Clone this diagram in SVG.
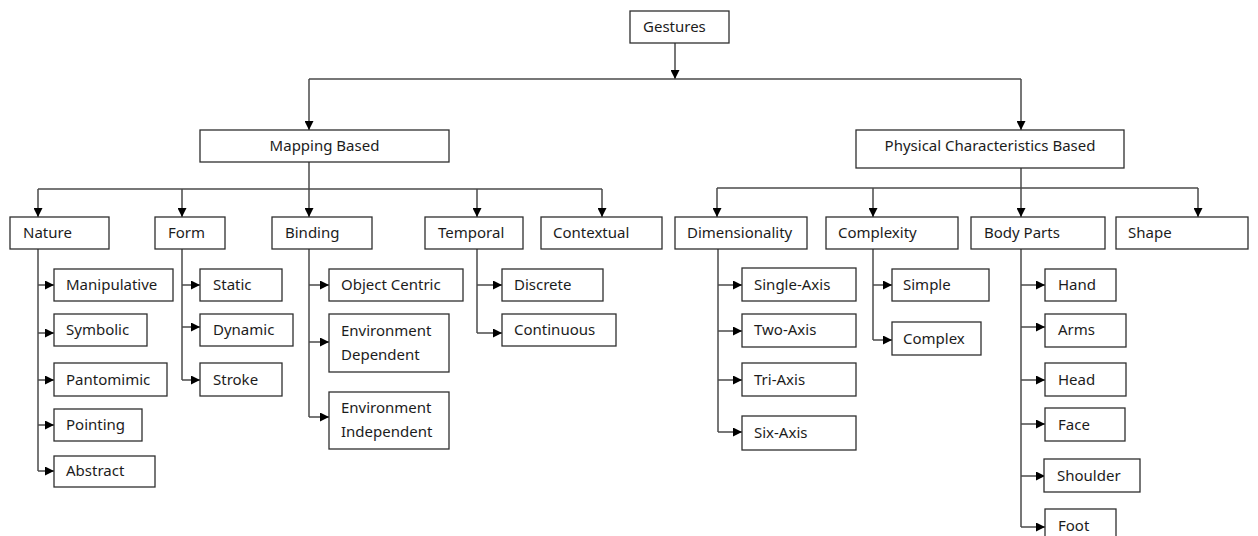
<svg xmlns="http://www.w3.org/2000/svg" width="1258" height="536" viewBox="0 0 1258 536">
  <style>
    .box { fill: #ffffff; stroke: #2f2f2f; stroke-width: 1.3; }
    .lbl { font-family: "Noto Sans", "Liberation Sans", sans-serif; font-size: 15px; fill: #1c1c1c; }
    .mid { text-anchor: middle; }
    .wire { fill: none; stroke: #4a4a4a; stroke-width: 1.5; }
    .arr { marker-end: url(#head); }
  </style>
  <defs>
    <marker id="head" markerUnits="userSpaceOnUse" markerWidth="10" markerHeight="9" refX="9" refY="4.5" orient="auto">
      <path d="M0,0 L9,4.5 L0,9 z" fill="#000"/>
    </marker>
  </defs>

  <!-- connectors -->
  <g id="connectors">
    <!-- root split -->
    <line class="wire arr" x1="675" y1="43" x2="675" y2="79"/>
    <polyline class="wire" points="309,79 1021,79"/>
    <line class="wire arr" x1="309" y1="79" x2="309" y2="130"/>
    <line class="wire arr" x1="1021" y1="79" x2="1021" y2="130"/>

    <!-- mapping based branches -->
    <line class="wire" x1="309" y1="162" x2="309" y2="189"/>
    <line class="wire" x1="38" y1="189" x2="602" y2="189"/>
    <line class="wire arr" x1="38" y1="189" x2="38" y2="217"/>
    <line class="wire arr" x1="182" y1="189" x2="182" y2="217"/>
    <line class="wire arr" x1="309" y1="189" x2="309" y2="217"/>
    <line class="wire arr" x1="477" y1="189" x2="477" y2="217"/>
    <line class="wire arr" x1="602" y1="189" x2="602" y2="217"/>

    <!-- physical characteristics branches -->
    <line class="wire" x1="1021" y1="168" x2="1021" y2="188"/>
    <line class="wire" x1="717" y1="188" x2="1198" y2="188"/>
    <line class="wire arr" x1="717" y1="188" x2="717" y2="217"/>
    <line class="wire arr" x1="873" y1="188" x2="873" y2="217"/>
    <line class="wire arr" x1="1021" y1="188" x2="1021" y2="217"/>
    <line class="wire arr" x1="1198" y1="188" x2="1198" y2="217"/>

    <!-- nature -->
    <line class="wire" x1="38" y1="249" x2="38" y2="471"/>
    <line class="wire arr" x1="38" y1="285" x2="54" y2="285"/>
    <line class="wire arr" x1="38" y1="333" x2="54" y2="333"/>
    <line class="wire arr" x1="38" y1="380" x2="54" y2="380"/>
    <line class="wire arr" x1="38" y1="425" x2="54" y2="425"/>
    <line class="wire arr" x1="38" y1="471" x2="54" y2="471"/>

    <!-- form -->
    <line class="wire" x1="182" y1="249" x2="182" y2="380"/>
    <line class="wire arr" x1="182" y1="285" x2="200" y2="285"/>
    <line class="wire arr" x1="182" y1="327" x2="200" y2="327"/>
    <line class="wire arr" x1="182" y1="380" x2="200" y2="380"/>

    <!-- binding -->
    <line class="wire" x1="309" y1="249" x2="309" y2="417"/>
    <line class="wire arr" x1="309" y1="285" x2="329" y2="285"/>
    <line class="wire arr" x1="309" y1="342" x2="329" y2="342"/>
    <line class="wire arr" x1="309" y1="417" x2="329" y2="417"/>

    <!-- temporal -->
    <line class="wire" x1="477" y1="249" x2="477" y2="333"/>
    <line class="wire arr" x1="477" y1="285" x2="502" y2="285"/>
    <line class="wire arr" x1="477" y1="333" x2="502" y2="333"/>

    <!-- dimensionality -->
    <line class="wire" x1="718" y1="249" x2="718" y2="432"/>
    <line class="wire arr" x1="718" y1="285" x2="742" y2="285"/>
    <line class="wire arr" x1="718" y1="331" x2="742" y2="331"/>
    <line class="wire arr" x1="718" y1="380" x2="742" y2="380"/>
    <line class="wire arr" x1="718" y1="432" x2="742" y2="432"/>

    <!-- complexity -->
    <line class="wire" x1="873" y1="249" x2="873" y2="340"/>
    <line class="wire arr" x1="873" y1="285" x2="892" y2="285"/>
    <line class="wire arr" x1="873" y1="340" x2="892" y2="340"/>

    <!-- body parts -->
    <line class="wire" x1="1021" y1="249" x2="1021" y2="527"/>
    <line class="wire arr" x1="1021" y1="285" x2="1045" y2="285"/>
    <line class="wire arr" x1="1021" y1="327" x2="1045" y2="327"/>
    <line class="wire arr" x1="1021" y1="380" x2="1045" y2="380"/>
    <line class="wire arr" x1="1021" y1="424" x2="1045" y2="424"/>
    <line class="wire arr" x1="1021" y1="476" x2="1045" y2="476"/>
    <line class="wire arr" x1="1021" y1="527" x2="1045" y2="527"/>
  </g>

  <!-- root -->
  <g id="gestures"><rect class="box" x="630" y="11" width="99" height="32"/><text class="lbl" x="643" y="32">Gestures</text></g>

  <!-- level one -->
  <g id="mapping-based"><rect class="box" x="200" y="130" width="249" height="32"/><text class="lbl mid" x="324.5" y="151">Mapping Based</text></g>
  <g id="physical-based"><rect class="box" x="856" y="130" width="268" height="38"/><text class="lbl mid" x="990" y="151">Physical Characteristics Based</text></g>

  <!-- level two, mapping based -->
  <g id="nature"><rect class="box" x="10" y="217" width="99" height="32"/><text class="lbl" x="23" y="238">Nature</text></g>
  <g id="form"><rect class="box" x="155" y="217" width="70" height="32"/><text class="lbl" x="168" y="238">Form</text></g>
  <g id="binding"><rect class="box" x="272" y="217" width="100" height="32"/><text class="lbl" x="285" y="238">Binding</text></g>
  <g id="temporal"><rect class="box" x="425" y="217" width="98" height="32"/><text class="lbl" x="438" y="238">Temporal</text></g>
  <g id="contextual"><rect class="box" x="541" y="217" width="121" height="32"/><text class="lbl" x="553" y="238">Contextual</text></g>

  <!-- level two, physical characteristics -->
  <g id="dimensionality"><rect class="box" x="675" y="217" width="132" height="32"/><text class="lbl" x="687" y="238">Dimensionality</text></g>
  <g id="complexity"><rect class="box" x="826" y="217" width="132" height="32"/><text class="lbl" x="838" y="238">Complexity</text></g>
  <g id="body-parts"><rect class="box" x="971" y="217" width="134" height="32"/><text class="lbl" x="984" y="238">Body Parts</text></g>
  <g id="shape"><rect class="box" x="1116" y="217" width="132" height="32"/><text class="lbl" x="1128" y="238">Shape</text></g>

  <!-- nature leaves -->
  <g id="manipulative"><rect class="box" x="54" y="269" width="119" height="32"/><text class="lbl" x="66" y="290">Manipulative</text></g>
  <g id="symbolic"><rect class="box" x="54" y="314" width="93" height="32"/><text class="lbl" x="66" y="335">Symbolic</text></g>
  <g id="pantomimic"><rect class="box" x="54" y="363" width="113" height="33"/><text class="lbl" x="66" y="385">Pantomimic</text></g>
  <g id="pointing"><rect class="box" x="54" y="409" width="88" height="32"/><text class="lbl" x="66" y="430">Pointing</text></g>
  <g id="abstract"><rect class="box" x="54" y="456" width="101" height="31"/><text class="lbl" x="66" y="476">Abstract</text></g>

  <!-- form leaves -->
  <g id="static"><rect class="box" x="200" y="269" width="82" height="32"/><text class="lbl" x="213" y="290">Static</text></g>
  <g id="dynamic"><rect class="box" x="200" y="314" width="93" height="32"/><text class="lbl" x="213" y="335">Dynamic</text></g>
  <g id="stroke"><rect class="box" x="200" y="363" width="82" height="33"/><text class="lbl" x="213" y="385">Stroke</text></g>

  <!-- binding leaves -->
  <g id="object-centric"><rect class="box" x="329" y="269" width="134" height="32"/><text class="lbl" x="341" y="290">Object Centric</text></g>
  <g id="env-dependent"><rect class="box" x="329" y="314" width="120" height="58"/><text class="lbl" x="341" y="336">Environment</text><text class="lbl" x="341" y="360">Dependent</text></g>
  <g id="env-independent"><rect class="box" x="329" y="392" width="120" height="57"/><text class="lbl" x="341" y="413">Environment</text><text class="lbl" x="341" y="437">Independent</text></g>

  <!-- temporal leaves -->
  <g id="discrete"><rect class="box" x="502" y="269" width="101" height="32"/><text class="lbl" x="514" y="290">Discrete</text></g>
  <g id="continuous"><rect class="box" x="502" y="314" width="114" height="32"/><text class="lbl" x="514" y="335">Continuous</text></g>

  <!-- dimensionality leaves -->
  <g id="single-axis"><rect class="box" x="742" y="268" width="114" height="33"/><text class="lbl" x="754" y="290">Single-Axis</text></g>
  <g id="two-axis"><rect class="box" x="742" y="314" width="114" height="33"/><text class="lbl" x="754" y="335">Two-Axis</text></g>
  <g id="tri-axis"><rect class="box" x="742" y="363" width="114" height="33"/><text class="lbl" x="754" y="385">Tri-Axis</text></g>
  <g id="six-axis"><rect class="box" x="742" y="416" width="114" height="34"/><text class="lbl" x="754" y="438">Six-Axis</text></g>

  <!-- complexity leaves -->
  <g id="simple"><rect class="box" x="892" y="269" width="97" height="32"/><text class="lbl" x="903" y="290">Simple</text></g>
  <g id="complex"><rect class="box" x="892" y="322" width="89" height="33"/><text class="lbl" x="903" y="344">Complex</text></g>

  <!-- body part leaves -->
  <g id="hand"><rect class="box" x="1045" y="269" width="71" height="32"/><text class="lbl" x="1058" y="290">Hand</text></g>
  <g id="arms"><rect class="box" x="1045" y="314" width="81" height="33"/><text class="lbl" x="1058" y="335">Arms</text></g>
  <g id="head"><rect class="box" x="1045" y="363" width="81" height="33"/><text class="lbl" x="1058" y="385">Head</text></g>
  <g id="face"><rect class="box" x="1045" y="408" width="80" height="33"/><text class="lbl" x="1058" y="430">Face</text></g>
  <g id="shoulder"><rect class="box" x="1044" y="459" width="96" height="33"/><text class="lbl" x="1057" y="481">Shoulder</text></g>
  <g id="foot"><rect class="box" x="1045" y="509" width="71" height="34"/><text class="lbl" x="1058" y="531">Foot</text></g>
</svg>
